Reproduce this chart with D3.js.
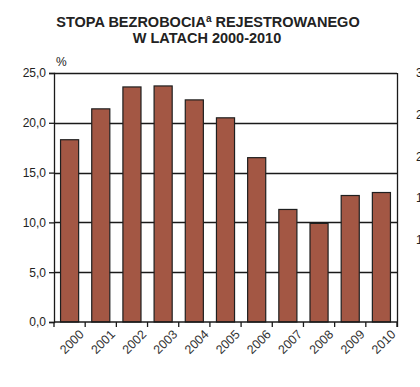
<!DOCTYPE html>
<html>
<head>
<meta charset="utf-8">
<script src="https://cdn.jsdelivr.net/npm/d3@7"></script>
<style>
  body { margin: 0; background: #fff; }
  svg { display: block; font-family: "Liberation Sans", Arial, sans-serif; }
</style>
</head>
<body>
<svg id="chart" width="420" height="387"></svg>
<script>
// registered unemployment rate, %
var years = ["2000","2001","2002","2003","2004","2005","2006","2007","2008","2009","2010"];
var rates = [18.3, 21.4, 23.6, 23.7, 22.3, 20.5, 16.5, 11.3, 9.9, 12.7, 13.0];
var yTicks = [0, 5, 10, 15, 20, 25];
// labels of the neighbouring chart, cut off at the right edge
var sideTicks = ["30", "25", "20", "15", "10"];

var svg = d3.select("#chart");
var margin = {left: 54, right: 23, top: 73, bottom: 65};
var W = 420, H = 387;

var x = d3.scaleBand().domain(years)
  .range([margin.left, W - margin.right])
  .paddingInner(0.42).paddingOuter(0.21);
var y = d3.scaleLinear().domain([0, 25]).range([H - margin.bottom, margin.top]);
var fmt = function(d) { return d3.format(".1f")(d).replace(".", ","); };

// title
var title = svg.append("text").attr("x", 208).attr("y", 27)
  .attr("text-anchor", "middle").attr("font-weight", "bold").attr("font-size", 14.5).attr("fill", "#222");
title.append("tspan").text("STOPA BEZROBOCIA");
title.append("tspan").attr("font-size", 10).attr("dy", -5).text("a");
title.append("tspan").attr("dy", 5).text(" REJESTROWANEGO");
svg.append("text").attr("x", 207).attr("y", 43)
  .attr("text-anchor", "middle").attr("font-weight", "bold").attr("font-size", 14.5).attr("fill", "#222")
  .text("W LATACH 2000-2010");

svg.append("text").attr("x", 56).attr("y", 66).attr("font-size", 12).attr("fill", "#222").text("%");

// gridlines
svg.append("g").selectAll("line").data(yTicks.slice(1)).join("line")
  .attr("x1", margin.left).attr("x2", W - margin.right)
  .attr("y1", function(d) { return Math.round(y(d)) + 0.5; })
  .attr("y2", function(d) { return Math.round(y(d)) + 0.5; })
  .attr("stroke", "#1a1a1a").attr("stroke-width", 1.3);

svg.append("line")
  .attr("x1", W - margin.right + 0.5).attr("x2", W - margin.right + 0.5)
  .attr("y1", y(25)).attr("y2", y(0) + 5)
  .attr("stroke", "#1a1a1a").attr("stroke-width", 1.3);

// bars
svg.append("g").selectAll("rect").data(rates).join("rect")
  .attr("x", function(d, i) { return x(years[i]); })
  .attr("width", x.bandwidth())
  .attr("y", function(d) { return y(d); })
  .attr("height", function(d) { return y(0) - y(d); })
  .attr("fill", "#a35744").attr("stroke", "#1f1f1f").attr("stroke-width", 1.2);

// y axis
var yAxis = svg.append("g").attr("transform", "translate(" + margin.left + ",0)")
  .call(d3.axisLeft(y).tickValues(yTicks).tickFormat(fmt).tickSize(5).tickPadding(3));
yAxis.selectAll("path, line").attr("stroke", "#1a1a1a").attr("stroke-width", 1.3);
yAxis.selectAll("text").attr("font-size", 12).attr("fill", "#222")
  .attr("font-family", "Liberation Sans, Arial, sans-serif");

// x axis, ticks at the category boundaries
var xAxis = svg.append("g").attr("transform", "translate(0," + y(0) + ")");
xAxis.append("line").attr("x1", margin.left).attr("x2", W - margin.right)
  .attr("stroke", "#1a1a1a").attr("stroke-width", 1.3);
var bounds = d3.range(years.length + 1).map(function(i) { return margin.left + i * (W - margin.left - margin.right) / years.length; });
xAxis.selectAll("line.tk").data(bounds).join("line").attr("class", "tk")
  .attr("x1", function(d) { return d; }).attr("x2", function(d) { return d; })
  .attr("y1", 0).attr("y2", 5).attr("stroke", "#1a1a1a").attr("stroke-width", 1.3);
xAxis.selectAll("text").data(years).join("text")
  .attr("transform", function(d) { return "translate(" + (x(d) + x.bandwidth() / 2 + 12) + ",10) rotate(-45)"; })
  .attr("text-anchor", "end").attr("dy", "0.35em")
  .attr("font-size", 12.5).attr("fill", "#333").text(function(d) { return d; });

// right-hand cut-off labels
var ySide = d3.scaleLinear().domain([30, 10]).range([73, 240]);
svg.append("g").selectAll("text").data(sideTicks).join("text")
  .attr("x", 416).attr("y", function(d) { return ySide(+d); }).attr("dy", "0.35em")
  .attr("font-size", 12).attr("fill", "#222").text(function(d) { return d; });
</script>
</body>
</html>
